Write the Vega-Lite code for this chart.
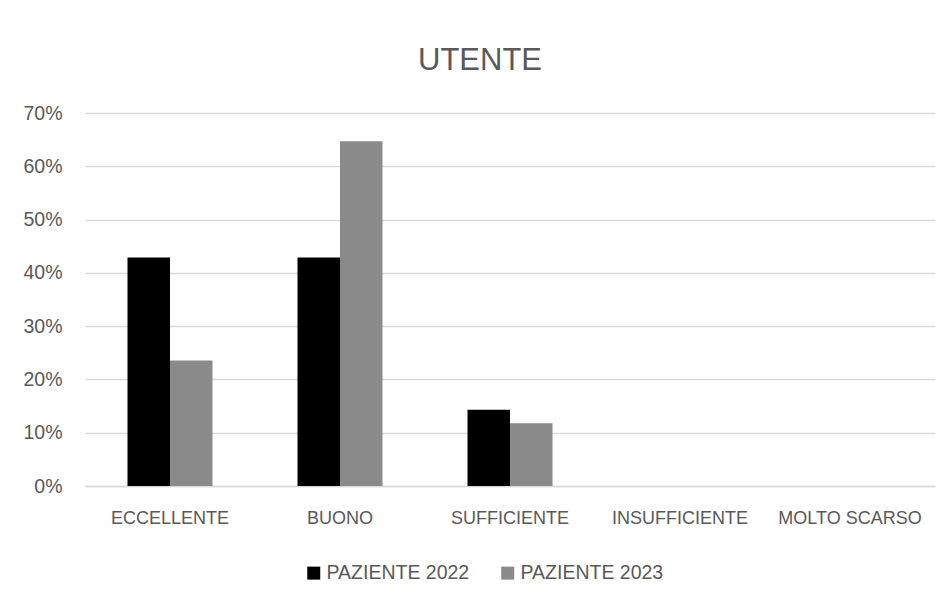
{
  "$schema": "https://vega.github.io/schema/vega-lite/v6.json",
  "width": 850,
  "height": 373,
  "autosize": {"type": "none"},
  "padding": {"left": 85, "top": 113, "right": 15, "bottom": 117},
  "background": "white",
  "title": {
    "text": "UTENTE",
    "anchor": "middle",
    "dx": -30,
    "offset": 26,
    "font": "Liberation Sans",
    "fontSize": 31,
    "fontWeight": "normal",
    "color": "#595959"
  },
  "data": {
    "values": [
      {"categoria": "ECCELLENTE", "serie": "PAZIENTE 2022", "valore": 0.4286},
      {"categoria": "ECCELLENTE", "serie": "PAZIENTE 2023", "valore": 0.2353},
      {"categoria": "BUONO", "serie": "PAZIENTE 2022", "valore": 0.4286},
      {"categoria": "BUONO", "serie": "PAZIENTE 2023", "valore": 0.6471},
      {"categoria": "SUFFICIENTE", "serie": "PAZIENTE 2022", "valore": 0.1429},
      {"categoria": "SUFFICIENTE", "serie": "PAZIENTE 2023", "valore": 0.1176},
      {"categoria": "INSUFFICIENTE", "serie": "PAZIENTE 2022", "valore": 0},
      {"categoria": "INSUFFICIENTE", "serie": "PAZIENTE 2023", "valore": 0},
      {"categoria": "MOLTO SCARSO", "serie": "PAZIENTE 2022", "valore": 0},
      {"categoria": "MOLTO SCARSO", "serie": "PAZIENTE 2023", "valore": 0}
    ]
  },
  "mark": {"type": "bar"},
  "encoding": {
    "x": {
      "field": "categoria",
      "type": "nominal",
      "sort": ["ECCELLENTE", "BUONO", "SUFFICIENTE", "INSUFFICIENTE", "MOLTO SCARSO"],
      "scale": {"paddingInner": 0.5, "paddingOuter": 0.25},
      "axis": {
        "title": null,
        "labelAngle": 0,
        "ticks": false,
        "labelPadding": 23,
        "labelFont": "Liberation Sans",
        "labelFontSize": 18,
        "labelColor": "#595959",
        "domainColor": "#d9d9d9",
        "domainWidth": 1.3
      }
    },
    "xOffset": {"field": "serie", "type": "nominal"},
    "y": {
      "field": "valore",
      "type": "quantitative",
      "scale": {"domain": [0, 0.7], "nice": false},
      "axis": {
        "title": null,
        "format": ".0%",
        "values": [0, 0.1, 0.2, 0.3, 0.4, 0.5, 0.6, 0.7],
        "ticks": false,
        "domain": false,
        "labelPadding": 23,
        "labelFont": "Liberation Sans",
        "labelFontSize": 19.5,
        "labelColor": "#595959",
        "gridColor": "#d9d9d9",
        "gridWidth": 1.3
      }
    },
    "color": {
      "field": "serie",
      "type": "nominal",
      "scale": {"domain": ["PAZIENTE 2022", "PAZIENTE 2023"], "range": ["#000000", "#8a8a8a"]},
      "legend": {
        "title": null,
        "orient": "none",
        "direction": "horizontal",
        "legendX": 219,
        "legendY": 450,
        "symbolType": "square",
        "symbolSize": 169,
        "symbolOpacity": 1,
        "labelFont": "Liberation Sans",
        "labelFontSize": 19.5,
        "labelColor": "#595959",
        "labelOffset": 3,
        "columnPadding": 28
      }
    }
  },
  "config": {
    "view": {"stroke": null}
  }
}
